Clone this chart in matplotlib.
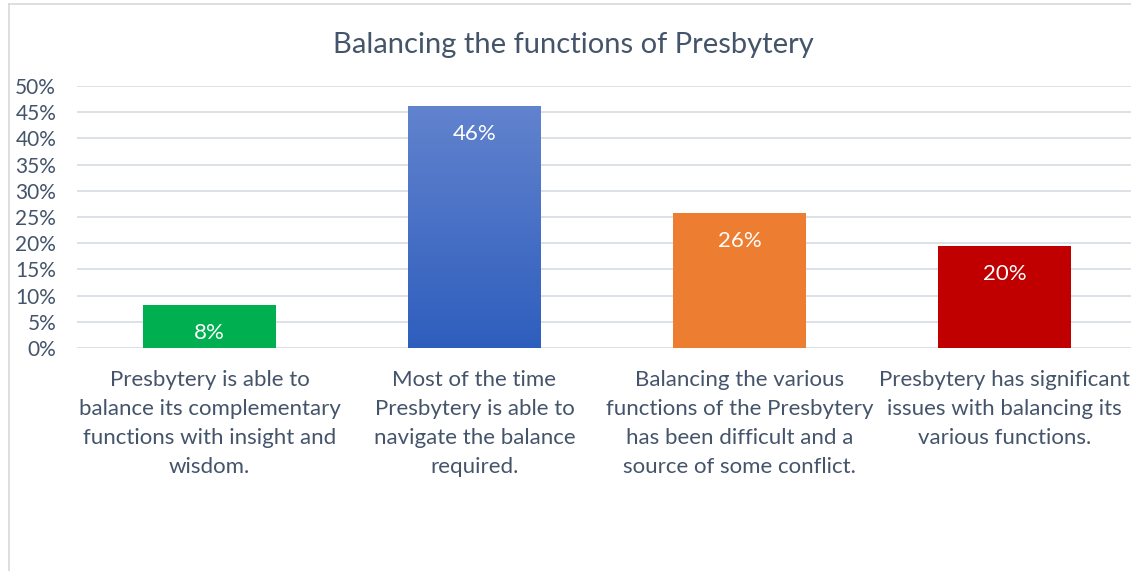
import numpy as np
import matplotlib.pyplot as plt
from matplotlib.colors import LinearSegmentedColormap
from matplotlib.lines import Line2D

plt.rcParams['font.family'] = ['Lato', 'DejaVu Sans']

title = "Balancing the functions of Presbytery"
categories = [
    "Presbytery is able to\nbalance its complementary\nfunctions with insight and\nwisdom.",
    "Most of the time\nPresbytery is able to\nnavigate the balance\nrequired.",
    "Balancing the various\nfunctions of the Presbytery\nhas been difficult and a\nsource of some conflict.",
    "Presbytery has significant\nissues with balancing its\nvarious functions.",
]
values = [0.082, 0.462, 0.258, 0.195]
labels = ["8%", "46%", "26%", "20%"]
colors = ["#00B050", "#4472C4", "#ED7D31", "#C00000"]
yticks = [0, 0.05, 0.10, 0.15, 0.20, 0.25, 0.30, 0.35, 0.40, 0.45, 0.50]

TEXT = "#44546A"
W, H = 1131, 571
fig = plt.figure(figsize=(W / 100, H / 100), dpi=100)
ax = fig.add_axes([77 / W, 1 - 348 / H, (4 * 265) / W, (348 - 86) / H])

x = np.arange(len(values))
bars = ax.bar(x, values, width=0.5, color=colors, zorder=2)

# gradient fill for the blue bar
grad = LinearSegmentedColormap.from_list("blue", ["#2E5EBD", "#6283CE"])
b = bars[1]
b.set_facecolor("none")
img = ax.imshow(np.linspace(0, 1, 256).reshape(-1, 1), cmap=grad, origin="lower",
                extent=[b.get_x(), b.get_x() + b.get_width(), 0, b.get_height()],
                aspect="auto", zorder=2)
img.set_clip_path(b)

for xi, v, lab in zip(x, values, labels):
    ax.annotate(lab, (xi, v), xytext=(0, -20), textcoords="offset points",
                ha="center", va="center", color="white", fontsize=16, zorder=3)

ax.set_xlim(-0.5, 3.5)
ax.set_ylim(0, 0.5)
ax.set_yticks(yticks)
ax.set_yticklabels([f"{int(round(t * 100))}%" for t in yticks])
ax.set_xticks(x)
ax.set_xticklabels(categories, linespacing=1.55)
ax.tick_params(axis="both", length=0, labelcolor=TEXT)
ax.tick_params(axis="x", pad=16, labelsize=16)
ax.tick_params(axis="y", pad=15, labelsize=15)
ax.grid(axis="y", color="#D9DEE6", linewidth=1.3, zorder=0)
for s in ax.spines.values():
    s.set_visible(False)

fig.text(573 / W, 1 - 45 / H, title, ha="center", va="center", fontsize=21, color=TEXT)

# chart border
fig.add_artist(Line2D([8.5 / W, 8.5 / W], [0, 1 - 3.5 / H], color="#D9D9D9", lw=1.2))
fig.add_artist(Line2D([8.5 / W, 1], [1 - 3.5 / H, 1 - 3.5 / H], color="#D9D9D9", lw=1.2))

fig.savefig("out.png", dpi=100)
